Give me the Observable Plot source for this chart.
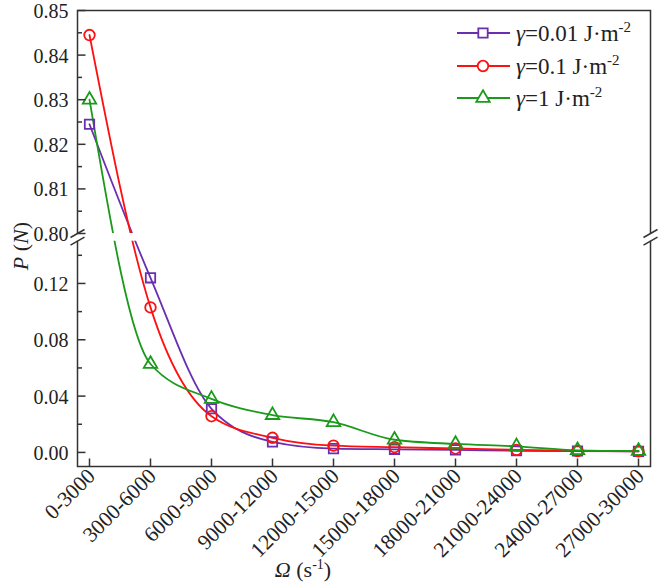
<!DOCTYPE html>
<html>
<head>
<meta charset="utf-8">
<script src="https://cdn.jsdelivr.net/npm/d3@7"></script>
<script src="https://cdn.jsdelivr.net/npm/@observablehq/plot@0.6"></script>
<style>
  html, body { margin: 0; padding: 0; background: #fff; }
  #chart { position: relative; width: 661px; height: 584px; }
</style>
</head>
<body>
<div id="chart"></div>
<script>
// ---- data ----
const categories = ["0-3000","3000-6000","6000-9000","9000-12000","12000-15000","15000-18000","18000-21000","21000-24000","24000-27000","27000-30000"];
const gamma001 = [0.8245, 0.124, 0.031, 0.0075, 0.0027, 0.0022, 0.0018, 0.0012, 0.0010, 0.0008];
const gamma01  = [0.8445, 0.103, 0.0257, 0.0104, 0.0048, 0.0037, 0.0028, 0.0018, 0.0010, 0.0008];
const gamma1   = [0.830, 0.0628, 0.038, 0.0265, 0.0215, 0.009, 0.006, 0.0043, 0.0015, 0.0010];
const seriesNames = ["γ=0.01", "γ=0.1", "γ=1"];
const lowerTicks = [0.00, 0.04, 0.08, 0.12];
const lowerMinor = [0.02, 0.06, 0.10, 0.14];
const upperTicks = [0.80, 0.81, 0.82, 0.83, 0.84, 0.85];
const upperMinor = [0.805, 0.815, 0.825, 0.835, 0.845];

// ---- broken-axis mapping (value -> display unit) ----
const W = 661, H = 584;
const mL = 77, mR = 11, mT = 10, mB = 118;
const lowDom = [-0.01, 0.15], upDom = [0.80, 0.85];
const lowK = 1408, upK = 4460, gapU = 7.7;
const lowTopU = (lowDom[1] - lowDom[0]) * lowK;
const upBotU = lowTopU + gapU;
const topU = upBotU + (upDom[1] - upDom[0]) * upK;
const u = v => v <= 0.5 ? (v - lowDom[0]) * lowK : upBotU + (v - upDom[0]) * upK;

const colors = ["#6a2fb0", "#ff1010", "#1a9a1a"];
const symbols = ["square", "circle", "triangle"];
const allSeries = [gamma001, gamma01, gamma1];

const rows = [];
allSeries.forEach((vals, s) => vals.forEach((v, i) => rows.push({i, v, s: seriesNames[s], si: s})));

const xPad = 12 / 61;
const xDom = [-xPad, categories.length - 1 + xPad];
const pxX = 1 / 61; // one pixel in x units

const majorVals = [...lowerTicks, ...upperTicks];
const minorVals = [...lowerMinor, ...upperMinor];
const labelOf = new Map(majorVals.map(v => [u(v), v.toFixed(2)]));

const axisColor = "#333";

const marks = [];
allSeries.forEach((vals, s) => {
  const d = rows.filter(r => r.si === s);
  marks.push(Plot.line(d, {x: "i", y: r => u(r.v), curve: "monotone-x", stroke: colors[s], strokeWidth: 1.8}));
});
allSeries.forEach((vals, s) => {
  const d = rows.filter(r => r.si === s);
  marks.push(Plot.dot(d, {x: "i", y: r => u(r.v), symbol: symbols[s], r: s === 2 ? 5 : 5.3, stroke: colors[s], strokeWidth: 1.8, fill: "none"}));
});
// frame
marks.push(Plot.frame({stroke: axisColor, strokeWidth: 1.5}));
// gap of the broken axis
marks.push(Plot.rect([0], {x1: xDom[0], x2: xDom[1], y1: lowTopU, y2: upBotU, fill: "white", insetLeft: -3, insetRight: -3}));
// break marks
const breaks = [];
[xDom[0], xDom[1]].forEach(x => [lowTopU, upBotU].forEach(y => breaks.push({x, y})));
marks.push(Plot.link(breaks, {x1: d => d.x - 7 * pxX, x2: d => d.x + 7 * pxX, y1: d => d.y - 4, y2: d => d.y + 4, stroke: axisColor, strokeWidth: 1.5}));
// inward ticks: y major/minor
marks.push(Plot.link(majorVals, {x1: xDom[0], x2: xDom[0] + 8 * pxX, y1: d => u(d), y2: d => u(d), stroke: axisColor, strokeWidth: 1.5}));
marks.push(Plot.link(minorVals, {x1: xDom[0], x2: xDom[0] + 4.5 * pxX, y1: d => u(d), y2: d => u(d), stroke: axisColor, strokeWidth: 1.5}));
// inward ticks: x
marks.push(Plot.link(d3.range(categories.length), {x1: d => d, x2: d => d, y1: 0, y2: 8, stroke: axisColor, strokeWidth: 1.5}));
// axes labels
marks.push(Plot.axisY(majorVals.map(u), {tickSize: 0, tickPadding: 9, dy: 1, tickFormat: d => labelOf.get(d), fontSize: 20, label: null}));
marks.push(Plot.axisX(d3.range(categories.length), {tickSize: 0, tickPadding: 6, dx: 2, tickRotate: -45, tickFormat: i => categories[i], fontSize: 21.5, label: null}));

const plot = Plot.plot({
  width: W, height: H,
  marginLeft: mL, marginRight: mR, marginTop: mT, marginBottom: mB,
  style: {fontFamily: "'Liberation Serif', 'Times New Roman', serif", color: "#222", background: "white"},
  x: {type: "linear", domain: xDom},
  y: {type: "linear", domain: [0, topU]},
  marks
});
document.getElementById("chart").appendChild(plot);

// ---- titles & legend (text with italics / superscripts) ----
const svg = d3.select(plot);
const font = "'Liberation Serif', 'Times New Roman', serif";
const yt = svg.append("text").attr("transform", "translate(28,246) rotate(-90)")
  .attr("text-anchor", "middle").attr("font-family", font).attr("font-size", 22).attr("fill", "#222");
yt.append("tspan").attr("font-style", "italic").text("P");
yt.append("tspan").text(" (");
yt.append("tspan").attr("font-style", "italic").text("N");
yt.append("tspan").text(")");

const xt = svg.append("text").attr("x", 303).attr("y", 577)
  .attr("text-anchor", "middle").attr("font-family", font).attr("font-size", 22).attr("fill", "#222");
xt.append("tspan").attr("font-style", "italic").text("Ω");
xt.append("tspan").text(" (s");
xt.append("tspan").attr("font-size", 14).attr("dy", -8).text("-1");
xt.append("tspan").attr("dy", 8).text(")");

const legendY = [33, 66, 98];
const legendUnits = ["0.01", "0.1", "1"];
seriesNames.forEach((name, s) => {
  const g = svg.append("g").attr("transform", `translate(0,${legendY[s]})`);
  g.append("line").attr("x1", 457).attr("x2", 510).attr("stroke", colors[s]).attr("stroke-width", 1.8);
  g.append("path").attr("transform", "translate(483,0)")
    .attr("d", d3.symbol(s === 0 ? d3.symbolSquare : s === 1 ? d3.symbolCircle : d3.symbolTriangle, Math.PI * (s === 2 ? 25 : 28))())
    .attr("fill", "white").attr("stroke", colors[s]).attr("stroke-width", 1.8);
  const t = g.append("text").attr("x", 516).attr("y", 8).attr("text-anchor", "start")
    .attr("font-family", font).attr("font-size", 23).attr("fill", "#222");
  t.append("tspan").attr("font-style", "italic").text("γ");
  t.append("tspan").text("=" + legendUnits[s] + " J·m");
  t.append("tspan").attr("font-size", 15).attr("dy", -9).text("-2");
});
</script>
</body>
</html>
